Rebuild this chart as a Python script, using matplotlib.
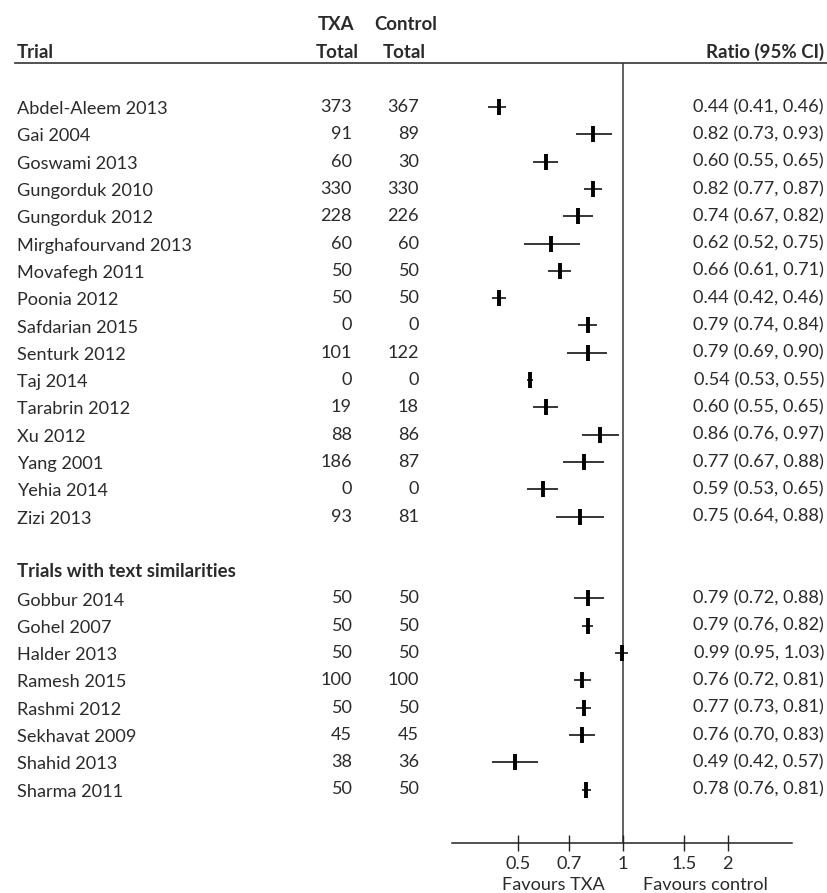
import matplotlib
matplotlib.use("Agg")
import matplotlib.pyplot as plt
import matplotlib.transforms as mtransforms
from matplotlib.lines import Line2D

# ---------------- data ----------------
trials_main = ["Abdel-Aleem 2013", "Gai 2004", "Goswami 2013", "Gungorduk 2010",
               "Gungorduk 2012", "Mirghafourvand 2013", "Movafegh 2011", "Poonia 2012",
               "Safdarian 2015", "Senturk 2012", "Taj 2014", "Tarabrin 2012",
               "Xu 2012", "Yang 2001", "Yehia 2014", "Zizi 2013"]
txa_main = [373, 91, 60, 330, 228, 60, 50, 50, 0, 101, 0, 19, 88, 186, 0, 93]
ctrl_main = [367, 89, 30, 330, 226, 60, 50, 50, 0, 122, 0, 18, 86, 87, 0, 81]
ratio_main = [0.44, 0.82, 0.60, 0.82, 0.74, 0.62, 0.66, 0.44, 0.79, 0.79, 0.54, 0.60, 0.86, 0.77, 0.59, 0.75]
lo_main = [0.41, 0.73, 0.55, 0.77, 0.67, 0.52, 0.61, 0.42, 0.74, 0.69, 0.53, 0.55, 0.76, 0.67, 0.53, 0.64]
hi_main = [0.46, 0.93, 0.65, 0.87, 0.82, 0.75, 0.71, 0.46, 0.84, 0.90, 0.55, 0.65, 0.97, 0.88, 0.65, 0.88]

group2_title = "Trials with text similarities"
trials_sim = ["Gobbur 2014", "Gohel 2007", "Halder 2013", "Ramesh 2015",
              "Rashmi 2012", "Sekhavat 2009", "Shahid 2013", "Sharma 2011"]
txa_sim = [50, 50, 50, 100, 50, 45, 38, 50]
ctrl_sim = [50, 50, 50, 100, 50, 45, 36, 50]
ratio_sim = [0.79, 0.79, 0.99, 0.76, 0.77, 0.76, 0.49, 0.78]
lo_sim = [0.72, 0.76, 0.95, 0.72, 0.73, 0.70, 0.42, 0.76]
hi_sim = [0.88, 0.82, 1.03, 0.81, 0.81, 0.83, 0.57, 0.81]

xtick_values = [0.5, 0.7, 1, 1.5, 2]
xtick_labels = ["0.5", "0.7", "1", "1.5", "2"]
header_top = ["TXA", "Control"]
header_bottom = ["Trial", "Total", "Total", "Ratio (95% CI)"]
favour_labels = ["Favours TXA", "Favours control"]

# ---------------- layout ----------------
W, H = 827, 893
FONT = "Lato"
TXT = "#2a2a2a"
fig = plt.figure(figsize=(W / 100, H / 100), dpi=100)
fig.patch.set_facecolor("white")


def fx(x):
    return x / W


def fy(y):
    return 1 - y / H


renderer = fig.canvas.get_renderer()


def fit_size(s, target, weight="normal"):
    t = fig.text(0, 0, s, fontsize=10, family=FONT, weight=weight)
    w = t.get_window_extent(renderer).width
    t.remove()
    return 10 * target / w


fs = fit_size("Abdel-Aleem 2013", 151)
fs_b = fit_size("Ratio (95% CI)", 118, "bold")

# forest axes
ax_left, ax_right, ax_top, ax_bot = 452, 792, 63, 843
ax = fig.add_axes([fx(ax_left), fy(ax_bot), fx(ax_right - ax_left), (ax_bot - ax_top) / H])
row0, step = 107, 27.3
ax.set_xscale("log")
ax.set_xlim(0.322, 3.06)
ax.set_ylim((ax_bot - row0) / step, (ax_top - row0) / step)
for s in ["top", "right", "left"]:
    ax.spines[s].set_visible(False)
ax.spines["bottom"].set_color("#222222")
ax.spines["bottom"].set_linewidth(1.1)
ax.set_yticks([])
ax.xaxis.set_minor_locator(matplotlib.ticker.NullLocator())
ax.set_xticks(xtick_values)
ax.set_xticklabels(xtick_labels, family=FONT, fontsize=fs, color=TXT)
ax.tick_params(axis="x", direction="inout", length=11, width=1.0, color="#222222", pad=4)
ax.patch.set_alpha(0)
ax.axvline(1, color="#555555", lw=1.3, zorder=1)

rows_main = list(range(len(trials_main)))
title_row = len(trials_main) + 1
rows_sim = [title_row + 1 + i for i in range(len(trials_sim))]

ratios = ratio_main + ratio_sim
los = lo_main + lo_sim
his = hi_main + hi_sim
rows = rows_main + rows_sim
ax.hlines(rows, los, his, color="black", lw=1.1, zorder=3)
ax.plot(ratios, rows, ls="none", marker="|", ms=11.5, mew=2.8, color="black", zorder=4)

# text columns
tr = mtransforms.blended_transform_factory(fig.transFigure, ax.transData)
name_x, txa_x, ctrl_x, ratio_x = 17, 352, 419, 824
name_off = 0.08
for names, txa, ctrl, rr, lo, hi, rws in [
        (trials_main, txa_main, ctrl_main, ratio_main, lo_main, hi_main, rows_main),
        (trials_sim, txa_sim, ctrl_sim, ratio_sim, lo_sim, hi_sim, rows_sim)]:
    for n, a, c, r, l, h, y in zip(names, txa, ctrl, rr, lo, hi, rws):
        kw = dict(transform=tr, family=FONT, fontsize=fs, color=TXT, va="center")
        fig.text(fx(name_x), y + name_off, n, ha="left", **kw)
        fig.text(fx(txa_x), y, str(a), ha="right", **kw)
        fig.text(fx(ctrl_x), y, str(c), ha="right", **kw)
        fig.text(fx(ratio_x), y, f"{r:.2f} ({l:.2f}, {h:.2f})", ha="right", **kw)

fig.text(fx(name_x), title_row, group2_title, transform=tr, family=FONT, fontsize=fs_b,
         weight="bold", color=TXT, va="center", ha="left")

# headers
hk = dict(family=FONT, fontsize=fs_b, weight="bold", color=TXT, va="center")
fig.text(fx(336), fy(25), header_top[0], ha="center", **hk)
fig.text(fx(406), fy(25), header_top[1], ha="center", **hk)
fig.text(fx(17), fy(52), header_bottom[0], ha="left", **hk)
fig.text(fx(337), fy(52), header_bottom[1], ha="center", **hk)
fig.text(fx(404), fy(52), header_bottom[2], ha="center", **hk)
fig.text(fx(824), fy(52), header_bottom[3], ha="right", **hk)
fig.add_artist(Line2D([fx(15), fx(827)], [fy(63), fy(63)], color="#333333", lw=1.2))

# favour labels
fig.text(fx(553), fy(885), favour_labels[0], ha="center", va="center", family=FONT, fontsize=fs, color=TXT)
fig.text(fx(705), fy(885), favour_labels[1], ha="center", va="center", family=FONT, fontsize=fs, color=TXT)

fig.savefig("out.png", dpi=100, facecolor="white")
